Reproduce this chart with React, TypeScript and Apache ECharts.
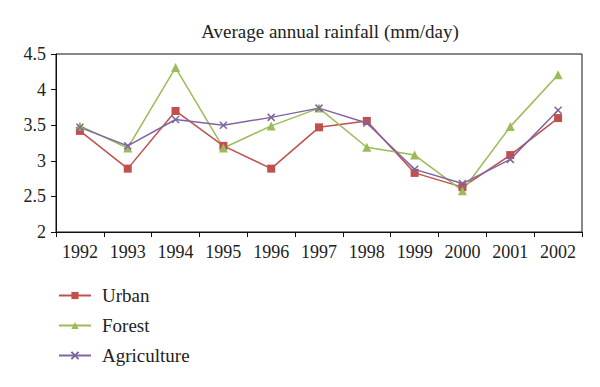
import React, { useEffect, useRef } from "react";
import * as echarts from "echarts";

const years = ["1992", "1993", "1994", "1995", "1996", "1997", "1998", "1999", "2000", "2001", "2002"];
const urban = [3.42, 2.89, 3.7, 3.21, 2.89, 3.47, 3.56, 2.83, 2.63, 3.08, 3.6];
const forest = [3.49, 3.18, 4.31, 3.18, 3.49, 3.74, 3.19, 3.08, 2.58, 3.48, 4.21];
const agriculture = [3.47, 3.21, 3.58, 3.5, 3.61, 3.74, 3.53, 2.88, 2.68, 3.02, 3.71];
const yTicks = [2, 2.5, 3, 3.5, 4, 4.5];

const FONT = "Liberation Serif";
const crossPath = "path://M0,0L10,10M10,0L0,10";

export default function App() {
  const ref = useRef<HTMLDivElement>(null);
  useEffect(() => {
    const chart = echarts.init(ref.current!, null, { renderer: "svg" });
    chart.setOption({
      animation: false,
      backgroundColor: "#fff",
      title: {
        text: "Average annual rainfall (mm/day)",
        left: 325,
        textAlign: "center",
        top: 17,
        textStyle: { fontFamily: FONT, fontSize: 19, fontWeight: "normal", color: "#222" },
      },
      grid: { left: 56, right: 18, top: 54, bottom: 155, show: true, borderColor: "#111", borderWidth: 1, backgroundColor: "transparent" },
      xAxis: {
        type: "category",
        data: years,
        boundaryGap: true,
        axisLine: { lineStyle: { color: "#111", width: 1 } },
        axisTick: { show: true, length: 5, lineStyle: { color: "#111" } },
        axisLabel: { fontFamily: FONT, fontSize: 18, color: "#222", margin: 11 },
      },
      yAxis: {
        type: "value",
        min: 2,
        max: 4.5,
        interval: 0.5,
        splitLine: { show: false },
        axisLine: { show: true, lineStyle: { color: "#111", width: 1 } },
        axisTick: { show: true, length: 5, lineStyle: { color: "#111" } },
        axisLabel: {
          fontFamily: FONT,
          fontSize: 18,
          color: "#222",
          margin: 10,
          formatter: (v: number) => (yTicks.includes(v) ? String(v) : ""),
        },
      },
      legend: {
        orient: "vertical",
        left: 58,
        top: 286,
        padding: 0,
        itemWidth: 32,
        itemHeight: 9,
        itemGap: 11,
        textStyle: { fontFamily: FONT, fontSize: 19, color: "#222", padding: [0, 0, 0, 6] },
        data: ["Urban", "Forest", "Agriculture"],
      },
      series: [
        {
          name: "Urban",
          type: "line",
          data: urban,
          symbol: "rect",
          symbolSize: 8,
          itemStyle: { color: "#C0504D" },
          lineStyle: { color: "#C0504D", width: 1.5 },
        },
        {
          name: "Forest",
          type: "line",
          data: forest,
          symbol: "triangle",
          symbolSize: 9,
          itemStyle: { color: "#9BBB59" },
          lineStyle: { color: "#9BBB59", width: 1.5 },
        },
        {
          name: "Agriculture",
          type: "line",
          data: agriculture,
          symbol: crossPath,
          symbolSize: 7,
          itemStyle: { color: "#8064A2", borderColor: "#8064A2", borderWidth: 1.5 },
          lineStyle: { color: "#8064A2", width: 1.5 },
        },
      ],
    });
    return () => chart.dispose();
  }, []);
  return <div ref={ref} style={{ width: 600, height: 387, position: "absolute", left: 0, top: 0 }} />;
}
